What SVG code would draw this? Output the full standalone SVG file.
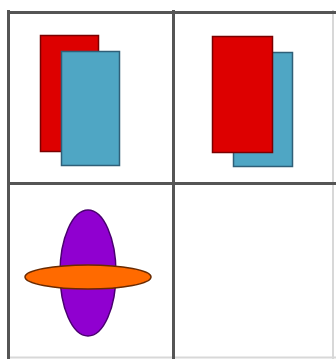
<svg xmlns="http://www.w3.org/2000/svg" width="336" height="359" viewBox="0 0 336 359">
<style>
.grid{stroke:#555;stroke-width:3;fill:none}
.faint{stroke:#d8d8d8;stroke-width:2;fill:none}
.red{fill:#dd0000;stroke:#7a0000;stroke-width:1.5}
.blue{fill:#4fa6c4;stroke:#2f5f78;stroke-width:1.5}
</style>
<rect width="336" height="359" fill="#fff"/>
<g id="grid">
<line class="faint" x1="333" y1="10" x2="333" y2="359"/>
<line class="faint" x1="7" y1="357.5" x2="336" y2="357.5"/>
<line class="grid" x1="7" y1="12.5" x2="336" y2="12.5"/>
<line class="grid" x1="7" y1="183.5" x2="336" y2="183.5"/>
<line class="grid" x1="8.5" y1="10" x2="8.5" y2="359"/>
<line class="grid" x1="173.5" y1="10" x2="173.5" y2="359"/>
</g>
<g id="cell1">
<rect class="red" x="40.5" y="35.5" width="58" height="116"/>
<rect class="blue" x="61.5" y="51.5" width="58" height="114"/>
</g>
<g id="cell2">
<rect class="blue" x="233.5" y="52.5" width="59" height="114"/>
<rect class="red" x="212.5" y="36.5" width="60" height="116"/>
</g>
<g id="cell3">
<ellipse cx="88" cy="273" rx="28" ry="63" fill="#9000d0" stroke="#4a0070" stroke-width="1.5"/>
<ellipse cx="88" cy="277" rx="63" ry="12" fill="#ff6a00" stroke="#6a2a00" stroke-width="1.5"/>
</g>
</svg>
